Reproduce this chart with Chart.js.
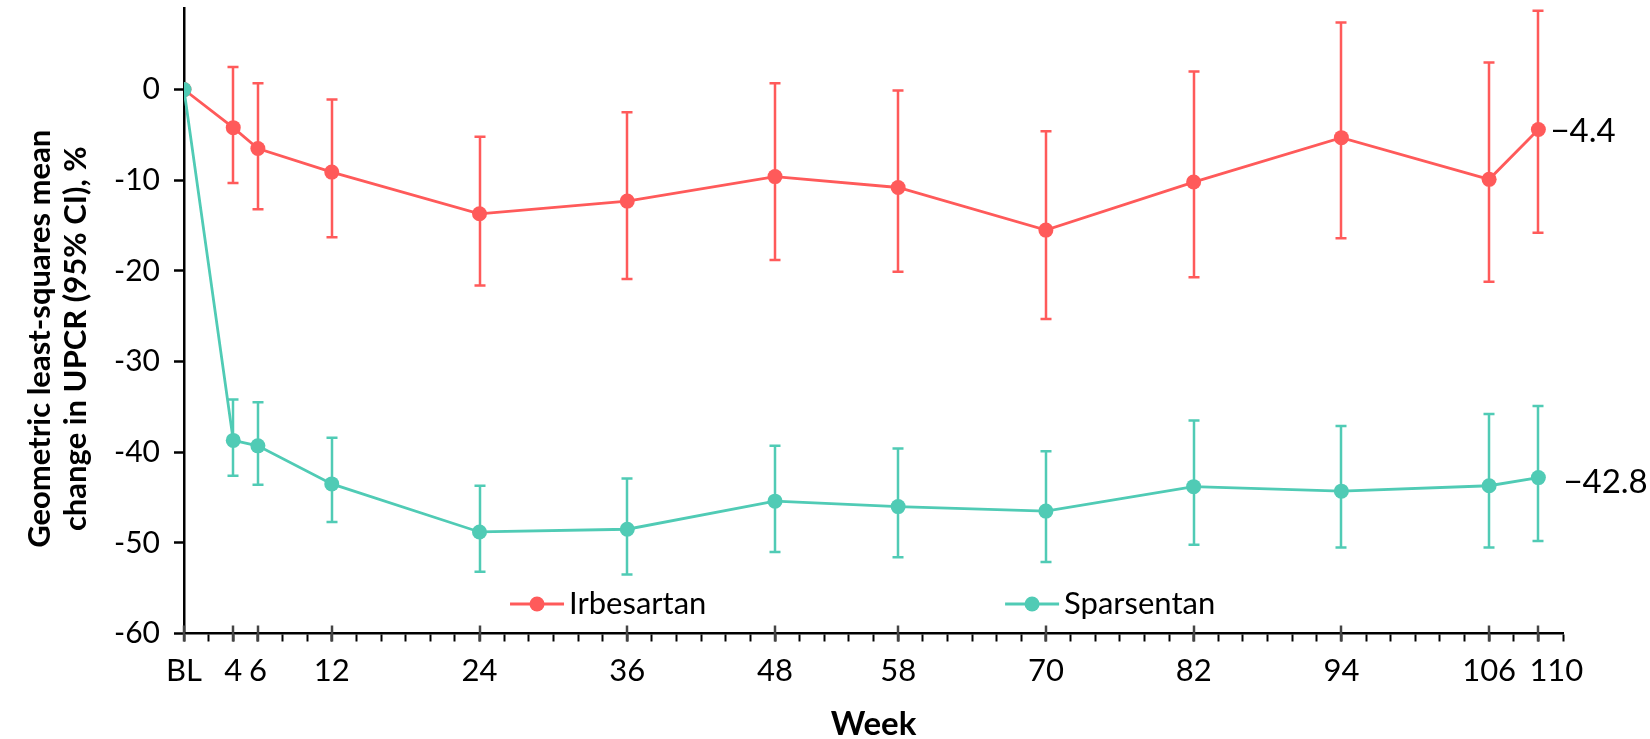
<!DOCTYPE html>
<html><head><meta charset="utf-8">
<script src="https://cdn.jsdelivr.net/npm/chart.js@4.4.1/dist/chart.umd.min.js"></script>
<style>html,body{margin:0;padding:0;background:#fff}</style>
</head><body>
<canvas id="c" width="1650" height="739"></canvas>
<script>
// ---- data ----
const weeks      = [0, 4, 6, 12, 24, 36, 48, 58, 70, 82, 94, 106, 110];
const tickLabels = ['BL','4','6','12','24','36','48','58','70','82','94','106','\u2007\u2007110'];
const yTicks     = [-60, -50, -40, -30, -20, -10, 0];
const seriesNames = ['Irbesartan', 'Sparsentan'];
const irbMean  = [0, -4.2, -6.5, -9.1, -13.7, -12.3, -9.6, -10.8, -15.5, -10.2, -5.3, -9.9, -4.4];
const irbLow   = [null, -10.3, -13.2, -16.3, -21.6, -20.9, -18.8, -20.1, -25.3, -20.7, -16.4, -21.2, -15.8];
const irbHigh  = [null, 2.5, 0.7, -1.1, -5.2, -2.5, 0.7, -0.1, -4.6, 2.0, 7.4, 3.0, 8.7];
const sparMean = [0, -38.7, -39.3, -43.5, -48.8, -48.5, -45.4, -46.0, -46.5, -43.8, -44.3, -43.7, -42.8];
const sparLow  = [null, -42.6, -43.6, -47.7, -53.2, -53.5, -51.0, -51.6, -52.1, -50.2, -50.5, -50.5, -49.8];
const sparHigh = [null, -34.2, -34.5, -38.4, -43.7, -42.9, -39.3, -39.6, -39.9, -36.5, -37.1, -35.8, -34.9];
const endLabels = ['\u22124.4', '\u221242.8'];
const yTitle = ['Geometric least-squares mean', 'change in UPCR (95% CI), %'];
const xTitle = 'Week';

// ---- style ----
const RED = '#FF5A5A', TEAL = '#50CBB5';
const FONT = 'Lato, "Noto Sans", sans-serif';
const minorStep = 2, xMax = 112;

function pts(means){ return weeks.map((w,i)=>({x:w, y:means[i]})); }

const errorBars = {
  id:'errorBars',
  beforeDatasetsDraw(chart){
    const {ctx, scales:{x,y}} = chart;
    chart.data.datasets.forEach(ds=>{
      ctx.save();
      ctx.strokeStyle = ds.borderColor; ctx.lineWidth = 2.5;
      weeks.forEach((w,i)=>{
        if (ds.lo[i]==null) return;
        const px = Math.round(x.getPixelForValue(w));
        const yl = y.getPixelForValue(ds.lo[i]), yh = y.getPixelForValue(ds.hi[i]);
        ctx.beginPath();
        ctx.moveTo(px, yh); ctx.lineTo(px, yl);
        ctx.moveTo(px-5.5, yh); ctx.lineTo(px+5.5, yh);
        ctx.moveTo(px-5.5, yl); ctx.lineTo(px+5.5, yl);
        ctx.stroke();
      });
      ctx.restore();
    });
  },
  afterDraw(chart){
    const {ctx, chartArea:a, scales:{x,y}} = chart;
    ctx.save();
    // major x ticks crossing the axis
    ctx.strokeStyle = '#444'; ctx.lineWidth = 2.5;
    const ay = y.getPixelForValue(-60);
    weeks.forEach(w=>{
      const px = Math.round(x.getPixelForValue(w));
      ctx.beginPath(); ctx.moveTo(px, ay-8); ctx.lineTo(px, ay+8); ctx.stroke();
    });
    // end labels
    ctx.fillStyle = '#000'; ctx.font = '33px ' + FONT; ctx.textBaseline = 'middle'; ctx.textAlign = 'left';
    chart.data.datasets.forEach(ds=>{
      const n = weeks.length-1;
      const px = x.getPixelForValue(weeks[n]), py = y.getPixelForValue(ds.data[n].y);
      ctx.fillText(ds.endLabel, px + ds.labelDx, py + ds.labelDy);
    });
    // legend inside plot
    ctx.font = '31px ' + FONT;
    const ly = a.bottom - 29.5;
    chart.data.datasets.forEach(ds=>{
      const cx = a.left + ds.legendFrac * (a.right - a.left);
      ctx.strokeStyle = ds.borderColor; ctx.lineWidth = 2.8;
      ctx.beginPath(); ctx.moveTo(cx-27, ly); ctx.lineTo(cx+27, ly); ctx.stroke();
      ctx.fillStyle = ds.borderColor;
      ctx.beginPath(); ctx.arc(cx, ly, 7.5, 0, Math.PI*2); ctx.fill();
      ctx.fillStyle = '#000';
      ctx.fillText(ds.label, cx + 32, ly);
    });
    // y title
    ctx.font = 'bold 31px ' + FONT; ctx.textAlign = 'center';
    const cy = (a.top + a.bottom) / 2 + 18;
    yTitle.forEach((t,i)=>{
      ctx.save(); ctx.translate(40 + i*36, cy); ctx.rotate(-Math.PI/2);
      ctx.fillText(t, 0, 0); ctx.restore();
    });
    ctx.restore();
  }
};

new Chart(document.getElementById('c'), {
  type:'line',
  data:{ datasets:[
    {label:seriesNames[0], data:pts(irbMean), lo:irbLow, hi:irbHigh, endLabel:endLabels[0],
     borderColor:RED, backgroundColor:RED, borderWidth:2.8, pointRadius:7.5, pointHoverRadius:7.5,
     pointBorderWidth:0, tension:0, order:1, labelDx:12, labelDy:2, legendFrac:0.256},
    {label:seriesNames[1], data:pts(sparMean), lo:sparLow, hi:sparHigh, endLabel:endLabels[1],
     borderColor:TEAL, backgroundColor:TEAL, borderWidth:2.8, pointRadius:7.5, pointHoverRadius:7.5,
     pointBorderWidth:0, tension:0, order:0, labelDx:25, labelDy:5, legendFrac:0.615}
  ]},
  options:{
    responsive:false, devicePixelRatio:1, animation:false,
    layout:{padding:{left:0, right:87, top:8, bottom:0}},
    plugins:{legend:{display:false}, tooltip:{enabled:false}},
    scales:{
      x:{type:'linear', min:0, max:xMax,
        afterBuildTicks:s=>{ const t=[]; for(let v=0; v<=xMax; v+=minorStep) t.push({value:v}); s.ticks=t; },
        afterFit:s=>{ s.height = 105.5; s.paddingLeft = 0; },
        ticks:{autoSkip:false, maxRotation:0, color:'#000', padding:11, font:{family:FONT, size:31},
          callback:v=>{ const i = weeks.indexOf(v); return i>=0 ? tickLabels[i] : ''; }},
        grid:{drawOnChartArea:false, drawTicks:true, tickLength:8, tickColor:'#000', tickWidth:2},
        border:{color:'#000', width:2.5},
        title:{display:true, text:xTitle, color:'#000', font:{family:FONT, size:33, weight:'bold', lineHeight:0.9}, padding:{top:0,bottom:0}}
      },
      y:{min:-60, max:9,
        afterBuildTicks:s=>{ s.ticks = yTicks.map(v=>({value:v})); },
        afterFit:s=>{ s.width = 184; s.paddingTop = 0; s.paddingBottom = 0; },
        ticks:{color:'#000', padding:14, font:{family:FONT, size:30}, callback:v=>String(v)},
        grid:{drawOnChartArea:false, drawTicks:true, tickLength:10, tickColor:'#000', tickWidth:2.5},
        border:{color:'#000', width:2.5}
      }
    }
  },
  plugins:[errorBars]
});
</script>
</body></html>
